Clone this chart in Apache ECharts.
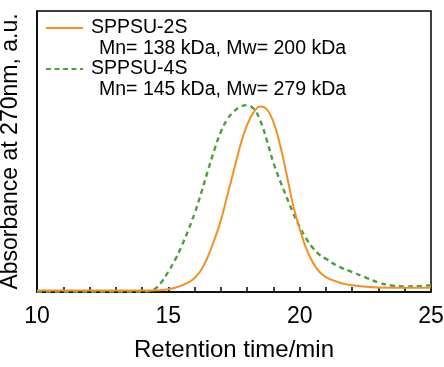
<!DOCTYPE html>
<html>
<head>
<meta charset="utf-8">
<script src="https://cdn.jsdelivr.net/npm/echarts@6/dist/echarts.min.js"></script>
<style>
  html, body { margin: 0; padding: 0; background: #fff; }
  #chart { width: 444px; height: 367px; }
</style>
</head>
<body>
<div id="chart"></div>
<script>
// retention time (min), absorbance (a.u., 0-100 scale)
const time2S = [10, 12, 14, 14.5, 14.75, 15, 15.25, 15.5, 15.75, 16, 16.25, 16.5, 16.75, 17, 17.25, 17.5, 17.75, 18, 18.25, 18.5, 18.75, 19, 19.25, 19.5, 19.75, 20, 20.25, 20.5, 20.75, 21, 21.25, 21.5, 21.75, 22, 22.5, 23, 24, 25]
const abs2S = [0.5, 0.5, 0.5, 0.6, 0.7, 1.0, 1.5, 2.3, 3.3, 5.0, 7.8, 12.5, 18.5, 25.5, 34.5, 43.5, 52.5, 59.5, 64.0, 66.0, 65.0, 60.5, 52.5, 42.0, 31.0, 22.5, 15.5, 10.5, 7.2, 5.3, 4.2, 3.4, 2.8, 2.4, 1.9, 1.6, 1.5, 1.5]
const time4S = [10, 12, 14, 14.25, 14.5, 14.75, 15, 15.25, 15.5, 15.75, 16, 16.25, 16.5, 16.75, 17, 17.25, 17.5, 17.75, 18, 18.25, 18.5, 18.75, 19, 19.25, 19.5, 19.75, 20, 20.25, 20.5, 20.75, 21, 21.5, 22, 22.5, 23, 23.5, 24, 24.5, 25]
const abs4S = [0, 0, 0, 0.3, 1.2, 3.6, 7.3, 11.3, 16.2, 21.8, 28.0, 35.2, 43.0, 50.5, 57.0, 61.5, 64.3, 66.0, 66.5, 65.2, 61.0, 54.0, 46.0, 39.7, 33.8, 28.2, 23.2, 19.0, 15.7, 13.3, 11.8, 9.0, 7.1, 5.2, 3.4, 2.3, 2.0, 2.1, 2.4]

const names = ['SPPSU-2S', 'SPPSU-4S']
const notes = ['Mn= 138 kDa, Mw= 200 kDa', 'Mn= 145 kDa, Mw= 279 kDa']
const colors = ['#F39022', '#4E9E3E']

const font = 'Liberation Sans, Arial, sans-serif'

function pairs(xs, ys) {
  return xs.map((x, i) => [x, ys[i]])
}

const chart = echarts.init(document.getElementById('chart'))

const legendGraphic = []
names.forEach((n, i) => {
  const y = 28 + i * 41
  legendGraphic.push({
    type: 'line',
    shape: { x1: 46, y1: y, x2: 83, y2: y },
    style: { stroke: colors[i], lineWidth: 2, lineDash: i === 1 ? [5, 3.5] : null }
  })
  legendGraphic.push({
    type: 'text', x: 91, y: y,
    style: { text: n, fill: '#000', font: '19.5px ' + font, textVerticalAlign: 'middle' }
  })
  legendGraphic.push({
    type: 'text', x: 99, y: y + 21,
    style: { text: notes[i], fill: '#000', font: '19.5px ' + font, textVerticalAlign: 'middle' }
  })
})

chart.setOption({
  animation: false,
  grid: {
    left: 37, right: 13, top: 11, bottom: 75,
    outerBoundsMode: 'none',
    show: true, borderColor: '#000', borderWidth: 1.5
  },
  xAxis: {
    type: 'value',
    min: 10, max: 25, interval: 5,
    name: 'Retention time/min',
    nameLocation: 'middle',
    nameGap: 46,
    nameTextStyle: { color: '#000', fontSize: 24, fontFamily: font },
    axisLine: { show: true, lineStyle: { color: '#000', width: 1.5 } },
    axisTick: { show: true, inside: true, length: 5, lineStyle: { color: '#000', width: 1.5 } },
    minorTick: { show: true, splitNumber: 5, length: 5, lineStyle: { color: '#000', width: 1.5 } },
    axisLabel: { color: '#000', fontSize: 23, fontFamily: font, margin: 13 },
    splitLine: { show: false }
  },
  yAxis: {
    type: 'value',
    min: 0, max: 100,
    name: 'Absorbance at 270nm, a.u.',
    nameLocation: 'middle',
    nameGap: 15,
    nameTextStyle: { color: '#000', fontSize: 23, fontFamily: font },
    axisLine: { show: true, lineStyle: { color: '#000', width: 1.5 } },
    axisTick: { show: false },
    axisLabel: { show: false },
    splitLine: { show: false }
  },
  series: [
    {
      name: names[1], type: 'line', smooth: 0.4, symbol: 'none',
      data: pairs(time4S, abs4S),
      lineStyle: { color: colors[1], width: 2.4, type: [5, 4] }
    },
    {
      name: names[0], type: 'line', smooth: 0.4, symbol: 'none',
      data: pairs(time2S, abs2S),
      lineStyle: { color: colors[0], width: 2 }
    }
  ],
  graphic: legendGraphic
})
</script>
</body>
</html>
